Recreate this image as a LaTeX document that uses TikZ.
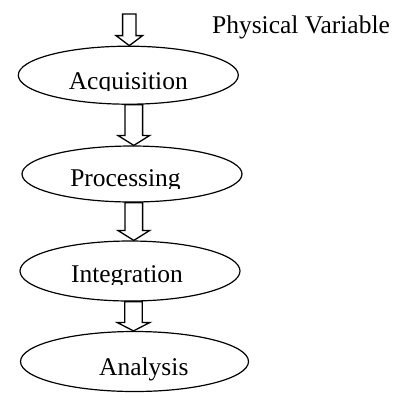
\documentclass[tikz,border=0pt]{standalone}
\usepackage{fontspec}
\setmainfont{Liberation Serif}
\usetikzlibrary{shapes.geometric,calc}
\tikzset{
  blob/.style={draw, ellipse, line width=1.2pt, inner sep=0pt},
  lbl/.style={inner sep=0pt, anchor=base, font=\fontsize{25.5}{30}\selectfont},
  barrowline/.style={draw, line width=1.3pt, line join=miter, fill=white}
}
% block arrow: #1 start, #2 end (tip), #3 x shift, #4 shaft half width, #5 head half width, #6 head length
\newcommand\blockarr[6]{%
  \path[barrowline] let \p1=(#1), \p2=(#2) in
    (\x2+#3-#4,\y1) -- (\x2+#3-#4,\y2+#6) -- (\x2+#3-#5,\y2+#6) -- (\x2+#3,\y2)
    -- (\x2+#3+#5,\y2+#6) -- (\x2+#3+#4,\y2+#6) -- (\x2+#3+#4,\y1) -- cycle;}
\begin{document}
\begin{tikzpicture}[x=1pt,y=-1pt]
\useasboundingbox (0,0) rectangle (409,392);
\node[blob, minimum width=220pt, minimum height=58pt] (acq) at (128.3,75.2) {};
\node[blob, minimum width=220pt, minimum height=56pt] (proc) at (132,174) {};
\node[blob, minimum width=220pt, minimum height=60pt] (integ) at (130,271) {};
\node[blob, minimum width=228pt, minimum height=60pt] (anal) at (134.5,361.5) {};
\coordinate (pvtop) at (129.3,14);
\begin{scope}
  \clip (0,0) rectangle (409,90.8);
  \node[lbl] (acqt) at (128.3,89.3) {Acquisition};
\end{scope}
\begin{scope}
  \clip (0,100) rectangle (409,188.2);
  \node[lbl] (proct) at (125.5,186.7) {Processing};
\end{scope}
\begin{scope}
  \clip (0,200) rectangle (409,284.2);
  \node[lbl] (integt) at (127,282.7) {Integration};
\end{scope}
\node[lbl] (analt) at (143.8,375) {Analysis};
\node[lbl] (pv) at (301,33.3) {Physical Variable};
\blockarr{pvtop}{acq.north}{1pt}{6.7pt}{13.3pt}{10pt}
\blockarr{acq.south}{proc.north}{1.8pt}{8.8pt}{16pt}{10pt}
\blockarr{proc.south}{integ.north}{3.8pt}{8.8pt}{16pt}{10pt}
\blockarr{integ.south}{anal.north}{-1pt}{8.8pt}{16.5pt}{8.5pt}
\end{tikzpicture}
\end{document}
